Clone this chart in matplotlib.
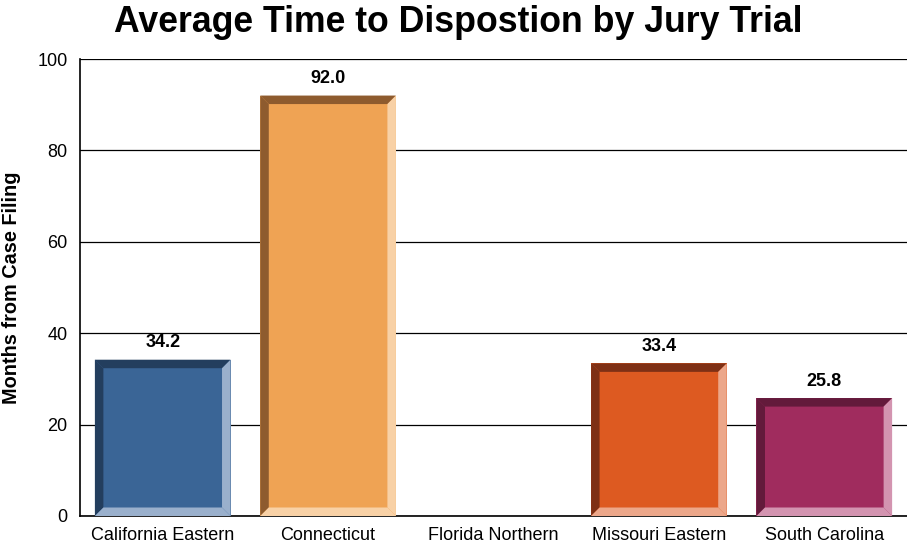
import numpy as np
import matplotlib.pyplot as plt
from matplotlib.patches import Polygon

plt.rcParams['font.family'] = ['Liberation Sans', 'DejaVu Sans']

districts = ['California Eastern', 'Connecticut', 'Florida Northern', 'Missouri Eastern', 'South Carolina']
months = [34.2, 92.0, None, 33.4, 25.8]
faces = ['#3A6596', '#EFA354', '#FFFFFF', '#DD5A21', '#A02C5E']
darks = ['#233E5E', '#8E5B2E', '#FFFFFF', '#7E3015', '#631A3B']
lights = ['#9AB0CC', '#F8D1A6', '#FFFFFF', '#ECA78A', '#D394B0']

fig = plt.figure(figsize=(9.07, 5.44), dpi=100)
ax = fig.add_axes([80 / 907, 28 / 544, 827 / 907, 457 / 544])

width = 0.82
bx = 8.5 / 165.4          # bevel in x (data units)
by = 8.5 / 4.57           # bevel in y (data units)

for i, (v, fc, dc, lc) in enumerate(zip(months, faces, darks, lights)):
    if v is None:
        continue
    x0, x1 = i - width / 2, i + width / 2
    ax.add_patch(Polygon([(x0, 0), (x1, 0), (x1, v), (x0, v)], closed=True, fc=fc, ec='none', zorder=3))
    # top and left (dark)
    ax.add_patch(Polygon([(x0, v), (x1, v), (x1 - bx, v - by), (x0 + bx, v - by)], closed=True, fc=dc, ec='none', zorder=4))
    ax.add_patch(Polygon([(x0, 0), (x0, v), (x0 + bx, v - by), (x0 + bx, by)], closed=True, fc=dc, ec='none', zorder=4))
    # right and bottom (light)
    ax.add_patch(Polygon([(x1, 0), (x1, v), (x1 - bx, v - by), (x1 - bx, by)], closed=True, fc=lc, ec='none', zorder=4))
    ax.add_patch(Polygon([(x0, 0), (x1, 0), (x1 - bx, by), (x0 + bx, by)], closed=True, fc=lc, ec='none', zorder=4))
    ax.text(i, v + 1.8, f'{v:.1f}', ha='center', va='bottom', fontsize=13, fontweight='bold', zorder=5)

ax.set_xlim(-0.5, 4.5)
ax.set_ylim(0, 100)
ax.set_yticks([0, 20, 40, 60, 80, 100])
ax.set_xticks(range(len(districts)))
ax.set_xticklabels(districts)
ax.tick_params(axis='y', length=0, labelsize=13, pad=9)
ax.tick_params(axis='x', length=0, labelsize=13, pad=8)
ax.yaxis.grid(True, color='black', linewidth=0.9)
ax.set_axisbelow(True)
for s in ['top', 'right']:
    ax.spines[s].set_visible(False)
ax.spines['left'].set_linewidth(1.2)
ax.spines['bottom'].set_linewidth(1.2)
ax.set_ylabel('Months from Case Filing', fontsize=14.3, fontweight='bold')
ax.yaxis.set_label_coords(-0.071, 0.5)
fig.text(458 / 907, 1 - 22 / 544, 'Average Time to Dispostion by Jury Trial', ha='center', va='center',
         fontsize=25.7, fontweight='bold')

plt.savefig('out.png', dpi=100)
